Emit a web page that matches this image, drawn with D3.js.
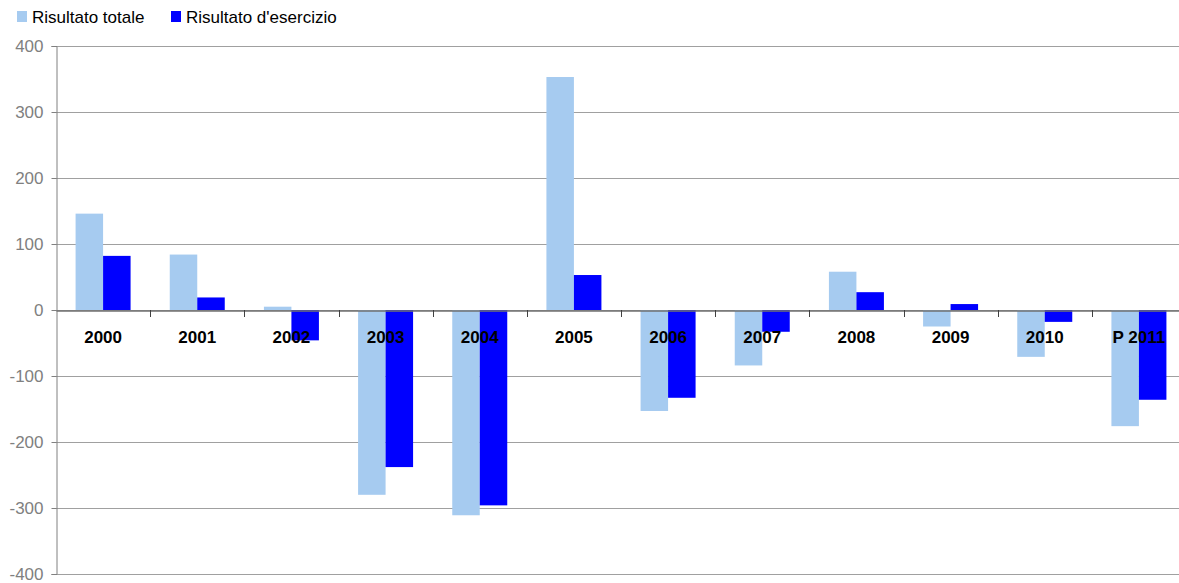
<!DOCTYPE html>
<html>
<head>
<meta charset="utf-8">
<script src="https://cdn.jsdelivr.net/npm/d3@7"></script>
<style>
  body { margin: 0; background: #fff; }
  svg { font-family: "Liberation Sans", Arial, sans-serif; }
</style>
</head>
<body>
<svg id="chart" width="1179" height="583"></svg>
<script>
// data
const years = ["2000", "2001", "2002", "2003", "2004", "2005", "2006", "2007", "2008", "2009", "2010", "P 2011"];
const totale = [146, 84, 5, -280, -311, 353, -153, -84, 58, -25, -71, -176];
const esercizio = [82, 19, -46, -238, -296, 53, -133, -33, 27, 9, -18, -136];
const yTicks = [400, 300, 200, 100, 0, -100, -200, -300, -400];
const seriesNames = ["Risultato totale", "Risultato d'esercizio"];
const seriesColors = ["#a6cbf0", "#0000ff"];

const svg = d3.select("#chart");
const plotLeft = 56, plotRight = 1186, plotTop = 46, plotBottom = 574;

const x = d3.scaleBand().domain(years).range([plotLeft, plotRight]);
const y = d3.scaleLinear().domain([-400, 400]).range([plotBottom, plotTop]);
const barW = 27.5;

//  gridlines
svg.append("g").selectAll("line").data(yTicks).join("line")
    .attr("x1", plotLeft).attr("x2", 1179)
    .attr("y1", d => y(d) + 0.5).attr("y2", d => y(d) + 0.5)
    .attr("stroke", "#a0a0a0").attr("stroke-width", 1);

//  bars
const series = [totale, esercizio];
series.forEach((vals, s) => {
    svg.append("g").selectAll("rect").data(vals).join("rect")
        .attr("x", (d, i) => x(years[i]) + x.bandwidth() / 2 - barW + s * barW)
        .attr("width", barW)
        .attr("y", d => y(Math.max(0, d)))
        .attr("height", d => Math.abs(y(d) - y(0)))
        .attr("fill", seriesColors[s]);
});

//  y axis (plain hyphen for negatives, as in the original)
const yAxis = svg.append("g").attr("transform", `translate(${plotLeft + 0.5},0)`)
    .call(d3.axisLeft(y).tickValues(yTicks).tickFormat(d => String(d)).tickSize(5).tickPadding(8));
yAxis.select(".domain").attr("stroke", "#808080");
yAxis.selectAll(".tick line").attr("stroke", "#808080");
yAxis.selectAll(".tick text").attr("fill", "#808080")
    .style("font-size", "17px").attr("dy", "0.35em");

//  x axis along zero
const xAxis = svg.append("g").attr("transform", `translate(0,${y(0) + 0.5})`)
    .call(d3.axisBottom(x).tickSize(0).tickPadding(20));
xAxis.select(".domain").attr("stroke", "#707070").attr("stroke-width", 1.5);
xAxis.selectAll(".tick text").attr("fill", "#000")
    .style("font-size", "17px").style("font-weight", "bold");
svg.append("g").selectAll("line").data(years.slice(1)).join("line")
    .attr("x1", d => Math.round(x(d)) + 0.5).attr("x2", d => Math.round(x(d)) + 0.5)
    .attr("y1", y(0)).attr("y2", y(0) + 7)
    .attr("stroke", "#404040");

//  legend
const legend = svg.append("g");
const legX = [17, 171];
seriesNames.forEach((name, i) => {
    legend.append("rect").attr("x", legX[i]).attr("y", 11)
        .attr("width", 10).attr("height", 11).attr("fill", seriesColors[i]);
    legend.append("text").attr("x", legX[i] + 15).attr("y", 23)
        .style("font-size", "17px").attr("fill", "#000").text(name);
});
</script>
</body>
</html>
